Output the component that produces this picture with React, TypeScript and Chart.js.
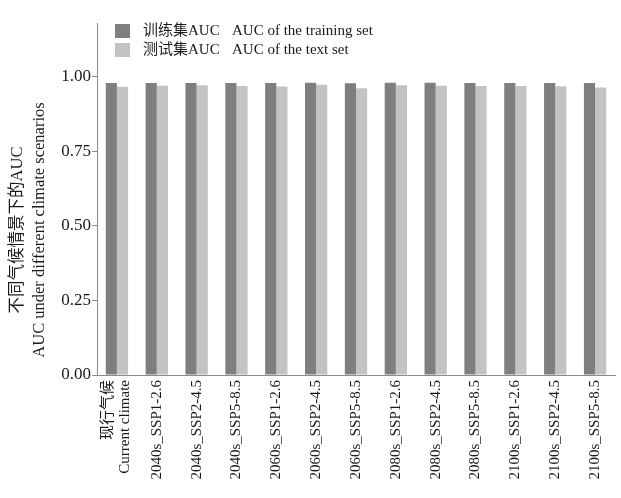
import React, { useEffect, useRef } from "react";
import { Chart, registerables } from "chart.js";

Chart.register(...registerables);

const categories: (string | string[])[] = [
  ["现行气候", "Current climate"],
  "2040s_SSP1-2.6",
  "2040s_SSP2-4.5",
  "2040s_SSP5-8.5",
  "2060s_SSP1-2.6",
  "2060s_SSP2-4.5",
  "2060s_SSP5-8.5",
  "2080s_SSP1-2.6",
  "2080s_SSP2-4.5",
  "2080s_SSP5-8.5",
  "2100s_SSP1-2.6",
  "2100s_SSP2-4.5",
  "2100s_SSP5-8.5",
];

const trainAUC = [0.979, 0.979, 0.979, 0.979, 0.979, 0.98, 0.978, 0.98, 0.98, 0.979, 0.979, 0.979, 0.979];
const testAUC = [0.966, 0.97, 0.971, 0.969, 0.967, 0.973, 0.961, 0.971, 0.97, 0.969, 0.969, 0.968, 0.964];

const legendCN = ["训练集AUC", "测试集AUC"];
const legendEN = ["AUC of the training set", "AUC of the text set"];
const yTitleLines = ["不同气候情景下的AUC", "AUC under different climate scenarios"];
const yTicks = [0, 0.25, 0.5, 0.75, 1.0];

const FAMILY = '"Liberation Serif", "Noto Sans CJK SC", serif';
const DARK = "#7f7f7f";
const LIGHT = "#c3c3c3";
const AXIS = "#8a8a8a";
const TEXT = "#1a1a1a";

const centerMultilinePlugin = {
  id: "centerMultiline",
  beforeDraw(chart: any) {
    const scale = chart.scales.x;
    if (!scale) return;
    const items = scale.getLabelItems(chart.chartArea);
    items.forEach((item: any) => {
      if (Array.isArray(item.label) && !item._centered) {
        const n = item.label.length;
        const lh = item.font.lineHeight;
        item.options.translation[0] -= ((n - 1) * lh) / 2;
        item._centered = true;
      }
    });
  },
};

const overlayPlugin = {
  id: "overlay",
  afterDraw(chart: any) {
    const ctx = chart.ctx;
    ctx.save();
    const colors = [DARK, LIGHT];
    ctx.font = `15px ${FAMILY}`;
    ctx.textBaseline = "middle";
    ctx.textAlign = "left";
    for (let i = 0; i < 2; i++) {
      const y = 31 + i * 19;
      ctx.fillStyle = colors[i];
      ctx.fillRect(115, y - 7, 15, 14);
      ctx.fillStyle = TEXT;
      ctx.fillText(legendCN[i], 143, y);
      ctx.fillText(legendEN[i], 232, y);
    }
    ctx.font = `16.5px ${FAMILY}`;
    ctx.textAlign = "center";
    const cy = 230;
    const xs = [18, 40];
    for (let i = 0; i < 2; i++) {
      ctx.save();
      ctx.translate(xs[i], cy);
      ctx.rotate(-Math.PI / 2);
      ctx.fillText(yTitleLines[i], 0, 0);
      ctx.restore();
    }
    ctx.restore();
  },
};

export default function App() {
  const ref = useRef<HTMLCanvasElement | null>(null);
  useEffect(() => {
    document.body.style.margin = "0";
    const canvas = ref.current;
    if (!canvas) return;
    const chart = new Chart(canvas, {
      type: "bar",
      data: {
        labels: categories,
        datasets: [
          {
            label: legendCN[0] + "   " + legendEN[0],
            data: trainAUC,
            backgroundColor: DARK,
            barPercentage: 1,
            categoryPercentage: 0.56,
          },
          {
            label: legendCN[1] + "   " + legendEN[1],
            data: testAUC,
            backgroundColor: LIGHT,
            barPercentage: 1,
            categoryPercentage: 0.56,
          },
        ],
      },
      options: {
        animation: false,
        responsive: false,
        devicePixelRatio: 1,
        layout: { padding: { top: 23, right: 6, left: 0, bottom: 0 } },
        plugins: {
          legend: { display: false },
          tooltip: { enabled: false },
          title: { display: false },
        },
        scales: {
          x: {
            grid: { display: false, drawTicks: false },
            border: { display: true, color: AXIS, width: 1 },
            ticks: {
              autoSkip: false,
              maxRotation: 90,
              minRotation: 90,
              padding: 5,
              color: TEXT,
              font: { family: FAMILY, size: 15, lineHeight: 1.13 },
            },
            afterFit(scale: any) {
              scale.height = 123;
            },
          },
          y: {
            min: 0,
            max: 1.18,
            grid: {
              display: true,
              drawOnChartArea: false,
              drawTicks: true,
              tickLength: 5,
              color: AXIS,
            },
            border: { display: true, color: AXIS, width: 1 },
            afterBuildTicks(scale: any) {
              scale.ticks = yTicks.map((v) => ({ value: v }));
            },
            ticks: {
              padding: 1,
              color: TEXT,
              font: { family: FAMILY, size: 17 },
              callback: (v: any) => Number(v).toFixed(2),
            },
            afterFit(scale: any) {
              scale.width = 97;
            },
          },
        },
      },
      plugins: [centerMultilinePlugin, overlayPlugin],
    } as any);
    return () => chart.destroy();
  }, []);
  return (
    <div style={{ width: 621, height: 498, background: "#fff" }}>
      <canvas ref={ref} width={621} height={498} style={{ display: "block" }} />
    </div>
  );
}
